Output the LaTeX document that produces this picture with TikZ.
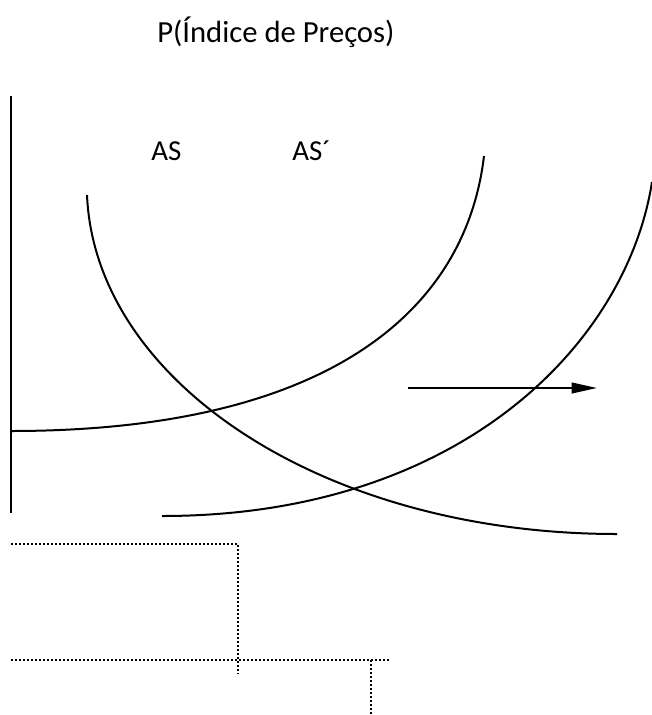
\documentclass[tikz,border=0pt]{standalone}
\usepackage{fontspec}
\setmainfont{Carlito}
\usetikzlibrary{arrows.meta}
\begin{document}
\begin{tikzpicture}[x=0.75pt, y=-0.75pt,
  curve/.style={line width=1.5pt},
  guide/.style={line width=1.5pt, dash pattern=on 1.5pt off 1.5pt},
  lbl/.style={font=\fontsize{21.7}{26}\selectfont, inner sep=0pt, anchor=base west}]
\useasboundingbox (0,0) rectangle (652,715);
% title and labels
\node[lbl, font=\fontsize{23}{28}\selectfont] (title) at (157,42) {P(Índice de Preços)};
\node[lbl] (as) at (151,160) {AS};
\node[lbl] (asnew) at (292,160) {AS´};
% axis
\draw[line width=1.2pt] (11,96) -- (11,513);
% curves: AS, AD, AS'
\draw[curve] (11,431) .. controls (321,431) and (465,316) .. (484,156);
\draw[curve] (87,195) .. controls (95,382) and (324,534) .. (617,534);
\draw[curve] (162,516) .. controls (462,516) and (627,342) .. (652,182);
% shift arrow
\coordinate (shiftA) at (408,388);
\coordinate (shiftB) at (597,388);
\draw[line width=1.5pt, -{Triangle[length=19pt, width=8pt]}] (shiftA) -- (shiftB);
% dotted guides
\draw[guide] (11,544) -- (238,544) -- (238,674);
\draw[guide] (11,660) -- (390,660);
\draw[guide] (371,660) -- (371,715);
\end{tikzpicture}
\end{document}
